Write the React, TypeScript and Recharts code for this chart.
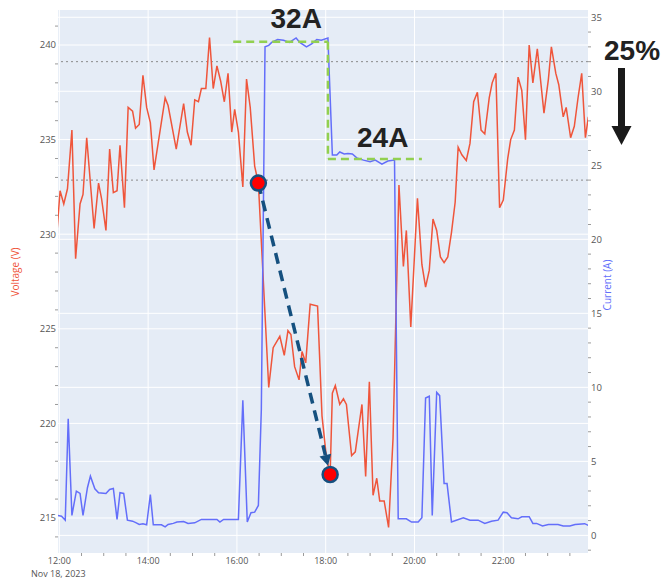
import {
  LineChart,
  Line,
  XAxis,
  YAxis,
  CartesianGrid,
  ReferenceLine,
  ReferenceDot,
} from 'recharts'

// minutes after 12:00, volts
const voltage: [number, number][] = [
  [-3, 230.2], [1, 232.3], [6, 231.6], [11, 232.4], [17, 235.5], [22, 228.7], [28, 231.6], [32, 232.1],
  [37, 235.1], [47, 230.3], [53, 232.7], [57, 231.9], [63, 230.2], [68, 234.5], [73, 232.2], [78, 232.3],
  [82, 234.7], [88, 231.4], [93, 236.7], [99, 236.5], [103, 235.6], [108, 235.8], [113, 238.4], [118, 236.7],
  [123, 235.9], [128, 233.4], [143, 237.2], [147, 236.8], [158, 234.5], [168, 236.9], [173, 235.4], [178, 234.7],
  [183, 237.1], [188, 237.0], [192, 237.7], [198, 237.7], [203, 240.4], [208, 237.7], [213, 238.9], [218, 238.1],
  [223, 237.0], [228, 238.5], [233, 235.4], [237, 236.6], [242, 235.4], [248, 232.5], [253, 238.2], [258, 236.7],
  [264, 233.6], [269, 232.7], [283, 221.9], [289, 224.0], [298, 224.6], [304, 223.6], [309, 224.9], [313, 224.7],
  [318, 223.0], [324, 222.3], [328, 223.8], [333, 223.2], [339, 226.3], [349, 226.2], [355, 220.4], [361, 218.2],
  [366, 217.3], [369, 221.6], [373, 222.0], [379, 221.0], [384, 221.3], [388, 221.0], [395, 218.3], [400, 218.5],
  [409, 221.0], [414, 217.2], [419, 222.2], [424, 216.2], [429, 217.1], [433, 215.9], [439, 215.9], [445, 214.5],
  [451, 219.2], [459, 232.6], [465, 228.3], [469, 230.2], [475, 225.1], [484, 231.9], [490, 228.4], [495, 227.2],
  [500, 228.1], [505, 230.8], [510, 230.2], [515, 228.8], [520, 228.5], [525, 228.8], [530, 230.1], [535, 231.7],
  [539, 234.6], [544, 234.2], [550, 233.9], [555, 234.8], [560, 237.0], [565, 237.5], [570, 235.5], [575, 235.3],
  [581, 237.2], [585, 238.0], [590, 238.5], [595, 231.4], [600, 231.8], [606, 234.0], [610, 235.0], [615, 235.5],
  [620, 238.3], [625, 237.6], [630, 235.0], [635, 240.0], [640, 238.0], [646, 239.8], [655, 236.4], [661, 238.2],
  [665, 239.9], [671, 238.5], [675, 237.9], [681, 236.2], [685, 236.7], [691, 235.1], [696, 235.7], [701, 237.2],
  [706, 238.5], [711, 235.1], [715, 236.2],
]

// minutes after 12:00, amps
const current: [number, number][] = [
  [-3, 1.35], [3, 1.3], [8, 1.03], [12, 7.87], [17, 1.35], [23, 2.99], [28, 2.83], [32, 1.35],
  [38, 3.22], [42, 4.0], [48, 3.15], [53, 2.88], [63, 2.83], [68, 3.1], [73, 3.17], [78, 1.08],
  [82, 2.88], [87, 2.83], [92, 1.03], [99, 0.96], [104, 0.85], [108, 0.74], [113, 0.79], [118, 0.72],
  [123, 2.76], [127, 0.72], [138, 0.72], [143, 0.58], [147, 0.74], [154, 0.81], [159, 0.9], [168, 0.94],
  [174, 0.81], [183, 0.85], [192, 1.08], [213, 1.08], [217, 0.9], [222, 1.08], [242, 1.08], [248, 9.12],
  [254, 0.9], [259, 1.53], [264, 1.57], [269, 2.02], [273, 8.5], [278, 33.0], [283, 33.1], [287, 33.3],
  [295, 33.5], [303, 33.45], [311, 33.3], [320, 33.6], [325, 33.3], [334, 33.0], [341, 33.2], [348, 33.5],
  [354, 33.45], [363, 33.6], [369, 25.7], [375, 25.7], [379, 25.9], [385, 25.76], [390, 25.8], [396, 25.76],
  [402, 25.5], [411, 25.35], [420, 25.24], [427, 25.35], [436, 25.08], [444, 25.29], [453, 25.35], [458, 1.12],
  [469, 1.12], [476, 0.9], [485, 0.9], [490, 1.19], [495, 9.28], [500, 9.4], [504, 1.35], [510, 9.66],
  [514, 9.44], [520, 3.5], [524, 3.5], [530, 0.9], [546, 1.19], [555, 1.03], [566, 1.03], [575, 0.81],
  [584, 0.96], [593, 1.03], [600, 1.57], [605, 1.53], [611, 1.19], [620, 1.12], [625, 1.26], [635, 1.26],
  [640, 0.81], [645, 0.81], [653, 0.63], [661, 0.74], [674, 0.74], [681, 0.63], [690, 0.63], [697, 0.74],
  [710, 0.79], [715, 0.67],
]

const timeTicks = Array.from({ length: 24 }, (_, i) => i * 30)
const majorTimes = [0, 120, 240, 360, 480, 600]
const voltTicks = Array.from({ length: 28 }, (_, i) => 214 + i)
const majorVolts = [215, 220, 225, 230, 235, 240]
const ampTicks = Array.from({ length: 37 }, (_, i) => -1 + i)
const majorAmps = [0, 5, 10, 15, 20, 25, 30, 35]
const limitAmps = [32, 24]
const fullLoad = { from: 235, to: 363, amps: 33.34 }
const reducedLoad = { from: 363, to: 490, amps: 25.42 }
const dropPoints: [number, number][] = [[269, 232.7], [366, 217.3]]

const voltageData = voltage.map(([t, v]) => ({ t, v }))
const currentData = current.map(([t, a]) => ({ t, a }))

const tickFont = '"Open Sans", sans-serif'
const tickColor = '#555'
const minorColor = '#9a9a9a'
const arrowBlue = '#15507f'
const green = '#92D050'

function TimeTick({ x, y, payload }: any) {
  const m = payload.value
  if (m % 120 !== 0) return <line x1={x} x2={x} y1={y} y2={y + 3} stroke={minorColor} />
  return (
    <g fontFamily={tickFont} fontSize={9} fill={tickColor}>
      <text x={x} y={y + 11} textAnchor="middle">{`${12 + m / 60}:00`}</text>
      {m === 0 && <text x={x - 1} y={y + 24} textAnchor="middle">Nov 18, 2023</text>}
    </g>
  )
}

function VoltTick({ x, y, payload }: any) {
  const v = payload.value
  if (v % 5 !== 0) return <line x1={x - 3} x2={x} y1={y} y2={y} stroke={minorColor} />
  return (
    <text x={x - 2} y={y} dy="0.35em" textAnchor="end" fontFamily={tickFont} fontSize={9.5} fill={tickColor}>
      {v}
    </text>
  )
}

function AmpTick({ x, y, payload }: any) {
  const a = payload.value
  if (a % 5 !== 0) return <line x1={x} x2={x + 3} y1={y} y2={y} stroke={minorColor} />
  return (
    <text x={x + 3} y={y} dy="0.35em" textAnchor="start" fontFamily={tickFont} fontSize={9.5} fill={tickColor}>
      {a}
    </text>
  )
}

// dashed line from the first marker to the second, with a head
function DropArrow({ x1, y1, x2, y2 }: any) {
  const dx = x2 - x1
  const dy = y2 - y1
  const len = Math.sqrt(dx * dx + dy * dy)
  const ux = dx / len
  const uy = dy / len
  const tipX = x2 - ux * 9
  const tipY = y2 - uy * 9
  const baseX = tipX - ux * 11
  const baseY = tipY - uy * 11
  return (
    <g>
      <line x1={x1} y1={y1} x2={baseX} y2={baseY} stroke={arrowBlue} strokeWidth={3.5} strokeDasharray="11 7" />
      <polygon
        points={`${tipX},${tipY} ${baseX - uy * 6},${baseY + ux * 6} ${baseX + uy * 6},${baseY - ux * 6}`}
        fill={arrowBlue}
      />
    </g>
  )
}

export default function App() {
  return (
    <div style={{ position: 'absolute', left: 0, top: 0, width: 662, height: 582, background: '#fff' }}>
      <LineChart width={662} height={582} margin={{ top: 10, right: 28, bottom: 0, left: 12 }}>
        <CartesianGrid
          yAxisId="left"
          fill="#e5ecf6"
          stroke="#ffffff"
          horizontalValues={majorVolts}
          verticalValues={majorTimes}
        />
        <CartesianGrid yAxisId="right" stroke="#ffffff" vertical={false} horizontalValues={majorAmps} />
        <XAxis
          dataKey="t"
          type="number"
          domain={[-1.8, 714.5]}
          allowDataOverflow
          ticks={timeTicks}
          interval={0}
          tick={<TimeTick />}
          tickLine={false}
          axisLine={false}
          tickSize={0}
          tickMargin={0}
          height={29}
        />
        <YAxis
          yAxisId="left"
          type="number"
          domain={[213.15, 241.85]}
          allowDataOverflow
          ticks={voltTicks}
          interval={0}
          tick={<VoltTick />}
          tickLine={false}
          axisLine={false}
          tickSize={0}
          tickMargin={0}
          width={46}
        />
        <YAxis
          yAxisId="right"
          orientation="right"
          type="number"
          domain={[-1.19, 35.49]}
          allowDataOverflow
          ticks={ampTicks}
          interval={0}
          tick={<AmpTick />}
          tickLine={false}
          axisLine={false}
          tickSize={0}
          tickMargin={0}
          width={46}
        />
        {limitAmps.map((a) => (
          <ReferenceLine key={a} yAxisId="right" y={a} stroke="#8a8a8a" strokeDasharray="2 3" />
        ))}
        <Line
          yAxisId="left"
          data={voltageData}
          dataKey="v"
          stroke="#EF553B"
          strokeWidth={1.5}
          dot={false}
          isAnimationActive={false}
        />
        <Line
          yAxisId="right"
          data={currentData}
          dataKey="a"
          stroke="#636EFA"
          strokeWidth={1.5}
          dot={false}
          isAnimationActive={false}
        />
        <ReferenceLine
          yAxisId="right"
          segment={[{ x: fullLoad.from, y: fullLoad.amps }, { x: fullLoad.to, y: fullLoad.amps }]}
          stroke={green}
          strokeWidth={2.5}
          strokeDasharray="8 5"
        />
        <ReferenceLine
          yAxisId="right"
          segment={[{ x: fullLoad.to, y: fullLoad.amps }, { x: reducedLoad.from, y: reducedLoad.amps }]}
          stroke={green}
          strokeWidth={2.5}
          strokeDasharray="8 5"
        />
        <ReferenceLine
          yAxisId="right"
          segment={[{ x: reducedLoad.from, y: reducedLoad.amps }, { x: reducedLoad.to, y: reducedLoad.amps }]}
          stroke={green}
          strokeWidth={2.5}
          strokeDasharray="8 5"
        />
        <ReferenceLine
          yAxisId="left"
          segment={[{ x: dropPoints[0][0], y: dropPoints[0][1] }, { x: dropPoints[1][0], y: dropPoints[1][1] }]}
          shape={DropArrow}
        />
        {dropPoints.map(([t, v]) => (
          <ReferenceDot
            key={t}
            yAxisId="left"
            x={t}
            y={v}
            r={7.5}
            fill="#ff0000"
            stroke={arrowBlue}
            strokeWidth={2.5}
          />
        ))}
      </LineChart>
      <svg
        width={662}
        height={582}
        style={{ position: 'absolute', left: 0, top: 0, pointerEvents: 'none' }}
      >
        <text
          transform="translate(15,272) rotate(-90)"
          textAnchor="middle"
          dy="0.35em"
          fontFamily={tickFont}
          fontSize={10}
          fill="#EF553B"
        >
          Voltage (V)
        </text>
        <text
          transform="translate(607,285) rotate(-90)"
          textAnchor="middle"
          dy="0.35em"
          fontFamily={tickFont}
          fontSize={10}
          fill="#636EFA"
        >
          Current (A)
        </text>
        <g fontFamily='"Liberation Sans", Arial, sans-serif' fontWeight="bold" fontSize={28} fill="#222">
          <text x={270.5} y={28}>32A</text>
          <text x={357} y={147}>24A</text>
          <text x={604} y={60}>25%</text>
        </g>
        <rect x={618} y={68} width={7} height={60} fill="#1a1a1a" />
        <polygon points="611.5,126 631.5,126 621.5,145" fill="#1a1a1a" />
      </svg>
    </div>
  )
}
